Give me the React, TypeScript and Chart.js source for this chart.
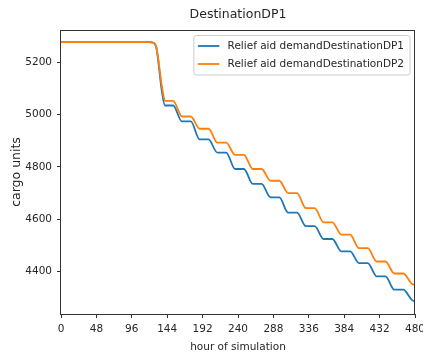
import React, { useEffect, useRef } from "react";
import { Chart, registerables } from "chart.js";

Chart.register(...registerables);

// Simulation hours at which the stock levels were sampled (shared by both series).
const hours = [
  0, 119, 125, 129, 137,
  141, 152, 164, 176, 188, 200, 212, 224, 236, 248, 260, 272, 284, 296,
  308, 320, 332, 344, 356, 368, 380, 392, 404, 416, 428, 440, 452, 464,
  476, 480,
];

// Remaining relief aid demand, destination DP1.
const demandDP1 = [
  5278, 5278, 5275, 5260, 5085,
  5035, 5035, 4974, 4974, 4905, 4905, 4855, 4855, 4792, 4792, 4735, 4735,
  4683, 4683, 4625, 4625, 4573, 4573, 4524, 4524, 4477, 4477, 4432, 4432,
  4381, 4381, 4330, 4330,
  4290, 4285,
];

// Remaining relief aid demand, destination DP2.
const demandDP2 = [
  5278, 5278, 5275, 5262, 5105,
  5053, 5053, 4993, 4993, 4946, 4946, 4893, 4893, 4846, 4846, 4792, 4792,
  4747, 4747, 4700, 4700, 4642, 4642, 4588, 4588, 4541, 4541, 4489, 4489,
  4438, 4438, 4392, 4392,
  4352, 4349,
];

const chartTitle = "DestinationDP1";
const seriesLabels = [
  "Relief aid demandDestinationDP1",
  "Relief aid demandDestinationDP2",
];
const seriesColors = ["#1f77b4", "#ff7f0e"];

const xTicks = [0, 48, 96, 144, 192, 240, 288, 336, 384, 432, 480];
const yTicks = [4400, 4600, 4800, 5000, 5200];
const xRange = [0, 480];
const yRange = [4237, 5324];

const FONT = "DejaVu Sans";
const TEXT = "#262626";
const SPINE = "#333333";

const toPoints = (ys: number[]) => ys.map((y, i) => ({ x: hours[i], y }));

// Draws the axes title, the four-sided frame and the boxed legend in the upper right.
const frameAndLegend = {
  id: "frameAndLegend",
  afterDraw(chart: any) {
    const { ctx, chartArea: a } = chart;
    ctx.save();

    ctx.font = `12.5px "${FONT}"`;
    ctx.fillStyle = TEXT;
    ctx.textAlign = "center";
    ctx.textBaseline = "middle";
    ctx.fillText(chartTitle, (a.left + a.right) / 2, a.top - 15);

    ctx.strokeStyle = SPINE;
    ctx.lineWidth = 1;
    ctx.strokeRect(Math.round(a.left) - 0.5, Math.round(a.top) + 0.5,
      Math.round(a.right) - Math.round(a.left), Math.round(a.bottom) - Math.round(a.top));

    ctx.font = `10.5px "${FONT}"`;
    const textW = Math.max(...seriesLabels.map((t) => ctx.measureText(t).width));
    const pad = 4;
    const handle = 21.5;
    const gap = 8.2;
    const rowH = 18;
    const w = pad + handle + gap + textW + 6;
    const h = 39.5;
    const right = a.right - 5;
    const left = right - w;
    const top = a.top + 5.5;

    ctx.beginPath();
    const r = 2.5;
    ctx.moveTo(left + r, top);
    ctx.lineTo(right - r, top);
    ctx.quadraticCurveTo(right, top, right, top + r);
    ctx.lineTo(right, top + h - r);
    ctx.quadraticCurveTo(right, top + h, right - r, top + h);
    ctx.lineTo(left + r, top + h);
    ctx.quadraticCurveTo(left, top + h, left, top + h - r);
    ctx.lineTo(left, top + r);
    ctx.quadraticCurveTo(left, top, left + r, top);
    ctx.closePath();
    ctx.fillStyle = "rgba(255,255,255,0.8)";
    ctx.fill();
    ctx.strokeStyle = "#cccccc";
    ctx.lineWidth = 1;
    ctx.stroke();

    seriesLabels.forEach((label, i) => {
      const y = top + 10.5 + i * rowH;
      ctx.beginPath();
      ctx.moveTo(left + pad, y);
      ctx.lineTo(left + pad + handle, y);
      ctx.strokeStyle = seriesColors[i];
      ctx.lineWidth = 1.8;
      ctx.stroke();
      ctx.fillStyle = TEXT;
      ctx.textBaseline = "middle";
      ctx.textAlign = "left";
      ctx.fillText(label, left + pad + handle + gap, y);
    });
    ctx.restore();
  },
};

export default function App() {
  const canvasRef = useRef<HTMLCanvasElement>(null);

  useEffect(() => {
    document.body.style.margin = "0";
    Chart.defaults.font.family = FONT;
    const chart = new Chart(canvasRef.current!, {
      type: "line",
      data: {
        datasets: [
          {
            label: seriesLabels[0],
            data: toPoints(demandDP1),
            borderColor: seriesColors[0],
            backgroundColor: seriesColors[0],
            borderWidth: 1.8,
            pointRadius: 0,
            cubicInterpolationMode: "monotone",
            order: 2,
          },
          {
            label: seriesLabels[1],
            data: toPoints(demandDP2),
            borderColor: seriesColors[1],
            backgroundColor: seriesColors[1],
            borderWidth: 1.8,
            pointRadius: 0,
            cubicInterpolationMode: "monotone",
            order: 1,
          },
        ],
      },
      options: {
        animation: false,
        responsive: true,
        maintainAspectRatio: false,
        layout: { padding: { left: 0, right: 8, top: 30, bottom: 0 } },
        plugins: {
          legend: { display: false },
          tooltip: { enabled: false },
          title: { display: false },
        },
        scales: {
          x: {
            type: "linear",
            min: xRange[0],
            max: xRange[1],
            border: { display: false },
            grid: { drawOnChartArea: false, drawTicks: true, tickLength: 4, color: SPINE },
            ticks: {
              autoSkip: false,
              maxRotation: 0,
              padding: 5,
              color: TEXT,
              font: { family: FONT, size: 10.5 },
              callback: (v: any) => String(v),
            },
            afterBuildTicks: (s: any) => {
              s.ticks = xTicks.map((value) => ({ value }));
            },
            afterFit: (s: any) => {
              s.height = 41;
              s.paddingLeft = 0;
              s.paddingRight = 0;
            },
            title: {
              display: true,
              text: "hour of simulation",
              color: TEXT,
              font: { family: FONT, size: 10.5 },
              padding: { top: 0, bottom: 1 },
            },
          },
          y: {
            type: "linear",
            min: yRange[0],
            max: yRange[1],
            border: { display: false },
            grid: { drawOnChartArea: false, drawTicks: true, tickLength: 4, color: SPINE },
            ticks: {
              padding: 5,
              color: TEXT,
              font: { family: FONT, size: 10.5 },
              callback: (v: any) => String(v),
            },
            afterBuildTicks: (s: any) => {
              s.ticks = yTicks.map((value) => ({ value }));
            },
            afterFit: (s: any) => {
              s.width = 61;
              s.paddingTop = 0;
              s.paddingBottom = 0;
            },
            title: {
              display: true,
              text: "cargo units",
              color: TEXT,
              font: { family: FONT, size: 12.5 },
              padding: { top: 9, bottom: 0 },
            },
          },
        },
      },
      plugins: [frameAndLegend],
    });
    return () => chart.destroy();
  }, []);

  return (
    <div style={{ position: "relative", width: 423, height: 355 }}>
      <canvas ref={canvasRef} />
    </div>
  );
}
